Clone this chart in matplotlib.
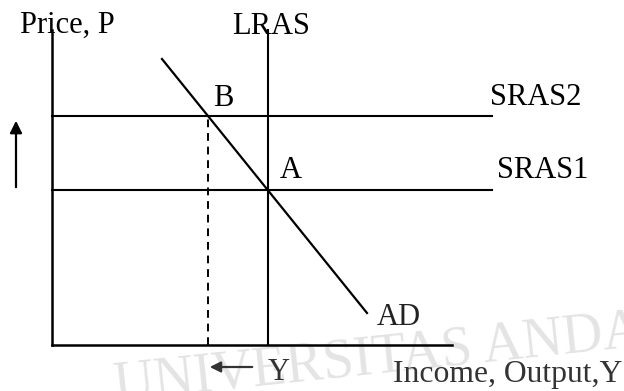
import numpy as np
import matplotlib
matplotlib.use('Agg')
import matplotlib.pyplot as plt

plt.rcParams['font.family'] = ['Liberation Serif', 'DejaVu Serif']

# diagram geometry (units: pixels from the origin, y upward)
axis_top = 315
axis_right = 400
lras_x = 216
sras_right = 440
sras1_y = 155
sras2_y = 229
ad_x = [110, 315]
ad_y = [286, 32]

# point B: where AD meets SRAS2
slope = (ad_y[1] - ad_y[0]) / (ad_x[1] - ad_x[0])
b_x = ad_x[0] + (sras2_y - ad_y[0]) / slope

fig = plt.figure(figsize=(6.24, 3.91), dpi=100)
ax = fig.add_axes([0, 0, 1, 1])
ax.set_xlim(-52, 572)
ax.set_ylim(-46, 345)
ax.axis('off')

# faint watermark
ax.text(60, -55, 'UNIVERSITAS ANDALAS', fontsize=40, color='#e4e4e4',
        rotation=6, zorder=0)

k = 'black'
ax.plot([0, 0], [0, axis_top], color=k, lw=1.8)
ax.plot([0, axis_right], [0, 0], color=k, lw=1.8)
ax.plot([lras_x, lras_x], [0, axis_top], color=k, lw=1.5)
ax.plot([0, sras_right], [sras2_y, sras2_y], color=k, lw=1.5)
ax.plot([0, sras_right], [sras1_y, sras1_y], color=k, lw=1.5)
ax.plot(ad_x, ad_y, color=k, lw=1.6)
ax.plot([b_x, b_x], [0, sras2_y], color=k, lw=1.4, ls=(0, (4, 3)))

# arrows
ax.annotate('', xy=(-36, 227), xytext=(-36, 155),
            arrowprops=dict(arrowstyle='-|>', color=k, lw=1.6, mutation_scale=18))
ax.annotate('', xy=(155, -22), xytext=(203, -22),
            arrowprops=dict(arrowstyle='-|>', color='#333333', lw=1.6, mutation_scale=16))

fs = 22
ax.text(-32, 312, 'Price, P', fontsize=fs, va='baseline')
ax.text(180, 311, 'LRAS', fontsize=fs, va='baseline')
ax.text(161, 239, 'B', fontsize=fs, va='baseline')
ax.text(228, 167, 'A', fontsize=fs, va='baseline')
ax.text(438, 240, 'SRAS2', fontsize=fs, va='baseline')
ax.text(445, 167, 'SRAS1', fontsize=fs, va='baseline')
ax.text(325, 20, 'AD', fontsize=fs, va='baseline', color='#222222')
ax.text(216, -35, 'Y', fontsize=fs, va='baseline', color='#333333')
ax.text(341, -37, 'Income, Output,Y', fontsize=22.8, va='baseline', color='#333333')

fig.savefig('out.png', dpi=100)
